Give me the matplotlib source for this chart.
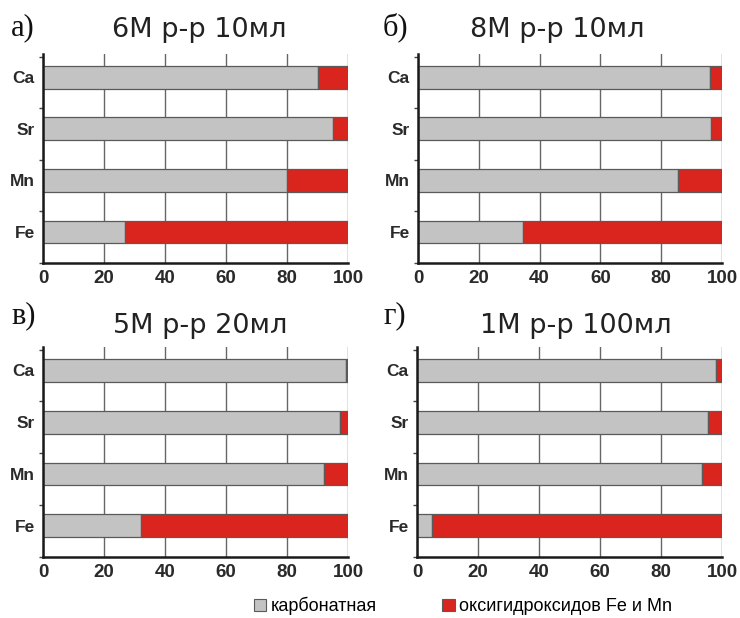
import matplotlib
matplotlib.use("Agg")
import matplotlib.pyplot as plt
from matplotlib.patches import Patch

# Elements, bottom to top
elements = ["Fe", "Mn", "Sr", "Ca"]

# Carbonate fraction (%) for each extraction regime
carbonate_a = [27, 80, 95, 90]
carbonate_b = [34.5, 85.5, 96.5, 96]
carbonate_c = [32, 92, 97.5, 99.5]
carbonate_d = [5, 93.5, 95.5, 98]

panel_letters = ["а)", "б)", "в)", "г)"]
panel_titles = ["6M р-р 10мл", "8M р-р 10мл", "5M р-р 20мл", "1M р-р 100мл"]
x_ticks = [0, 20, 40, 60, 80, 100]
legend_labels = ["карбонатная", "оксигидроксидов Fe и Mn"]

GRAY = "#c3c3c3"
RED = "#d9251d"
EDGE = "#5a5a5a"
TXT = "#2a2a2a"

W, H = 740, 618
fig = plt.figure(figsize=(W / 100, H / 100), dpi=100)
fig.patch.set_facecolor("white")


def px_rect(left, top, right, bottom):
    return [left / W, 1 - bottom / H, (right - left) / W, (bottom - top) / H]


axes_px = [
    (43, 54, 348, 263),
    (418, 54, 722, 263),
    (43, 347, 348, 557),
    (417, 347, 722, 557),
]
letter_px = [(11, 35), (383, 35), (11, 323), (383, 323)]
title_px = [(199, 37), (557, 37), (200, 333), (576, 333)]
series = [carbonate_a, carbonate_b, carbonate_c, carbonate_d]

for k in range(4):
    ax = fig.add_axes(px_rect(*axes_px[k]))
    carb = series[k]
    oxy = [100 - v for v in carb]
    ypos = [i + 0.6 for i in range(len(elements))]
    ax.barh(ypos, carb, height=0.44, color=GRAY, edgecolor=EDGE,
            linewidth=0.9, zorder=3)
    ax.barh(ypos, oxy, left=carb, height=0.44, color=RED, edgecolor=EDGE,
            linewidth=0.9, zorder=3)

    ax.set_xlim(0, 100)
    ax.set_ylim(0, 4.05)
    ax.set_xticks(x_ticks)
    ax.set_xticklabels([str(t) for t in x_ticks], fontsize=13.5,
                       fontweight="bold", color=TXT,
                       family="Liberation Sans")
    ax.set_yticks(ypos)
    ax.set_yticklabels(elements, fontsize=12.5, fontweight="bold",
                       color=TXT, family="Liberation Sans")
    ax.set_yticks([0, 1, 2, 3, 4], minor=True)
    ax.tick_params(axis="y", which="major", length=0, pad=6)
    ax.tick_params(axis="y", which="minor", length=3, width=1,
                   color="#444444", direction="out")
    ax.tick_params(axis="x", which="major", length=0, pad=5)

    ax.grid(axis="x", color="#666666", linewidth=1.0, zorder=1)
    ax.set_axisbelow(True)
    for side in ("top", "right"):
        ax.spines[side].set_visible(False)
    for side in ("left", "bottom"):
        ax.spines[side].set_color("#1a1a1a")
        ax.spines[side].set_linewidth(1.8)
        ax.spines[side].set_zorder(5)

    lx, ly = letter_px[k]
    fig.text(lx / W, 1 - ly / H, panel_letters[k], fontsize=22,
             family="Liberation Serif", color="#111111", va="baseline",
             ha="left")
    tx, ty = title_px[k]
    fig.text(tx / W, 1 - ty / H, panel_titles[k], fontsize=19.5,
             family="DejaVu Sans", color="#222222", va="baseline",
             ha="center")

handles = [Patch(facecolor=GRAY, edgecolor=EDGE, linewidth=0.8),
           Patch(facecolor=RED, edgecolor=EDGE, linewidth=0.8)]
fig.legend(handles, legend_labels, loc="center",
           bbox_to_anchor=(463 / W, 1 - 606 / H), ncol=2, frameon=False,
           handlelength=0.7, handleheight=0.7, handletextpad=0.25,
           columnspacing=3.6, prop={"family": "Liberation Sans", "size": 13})

fig.savefig("out.png", dpi=100, facecolor="white")
